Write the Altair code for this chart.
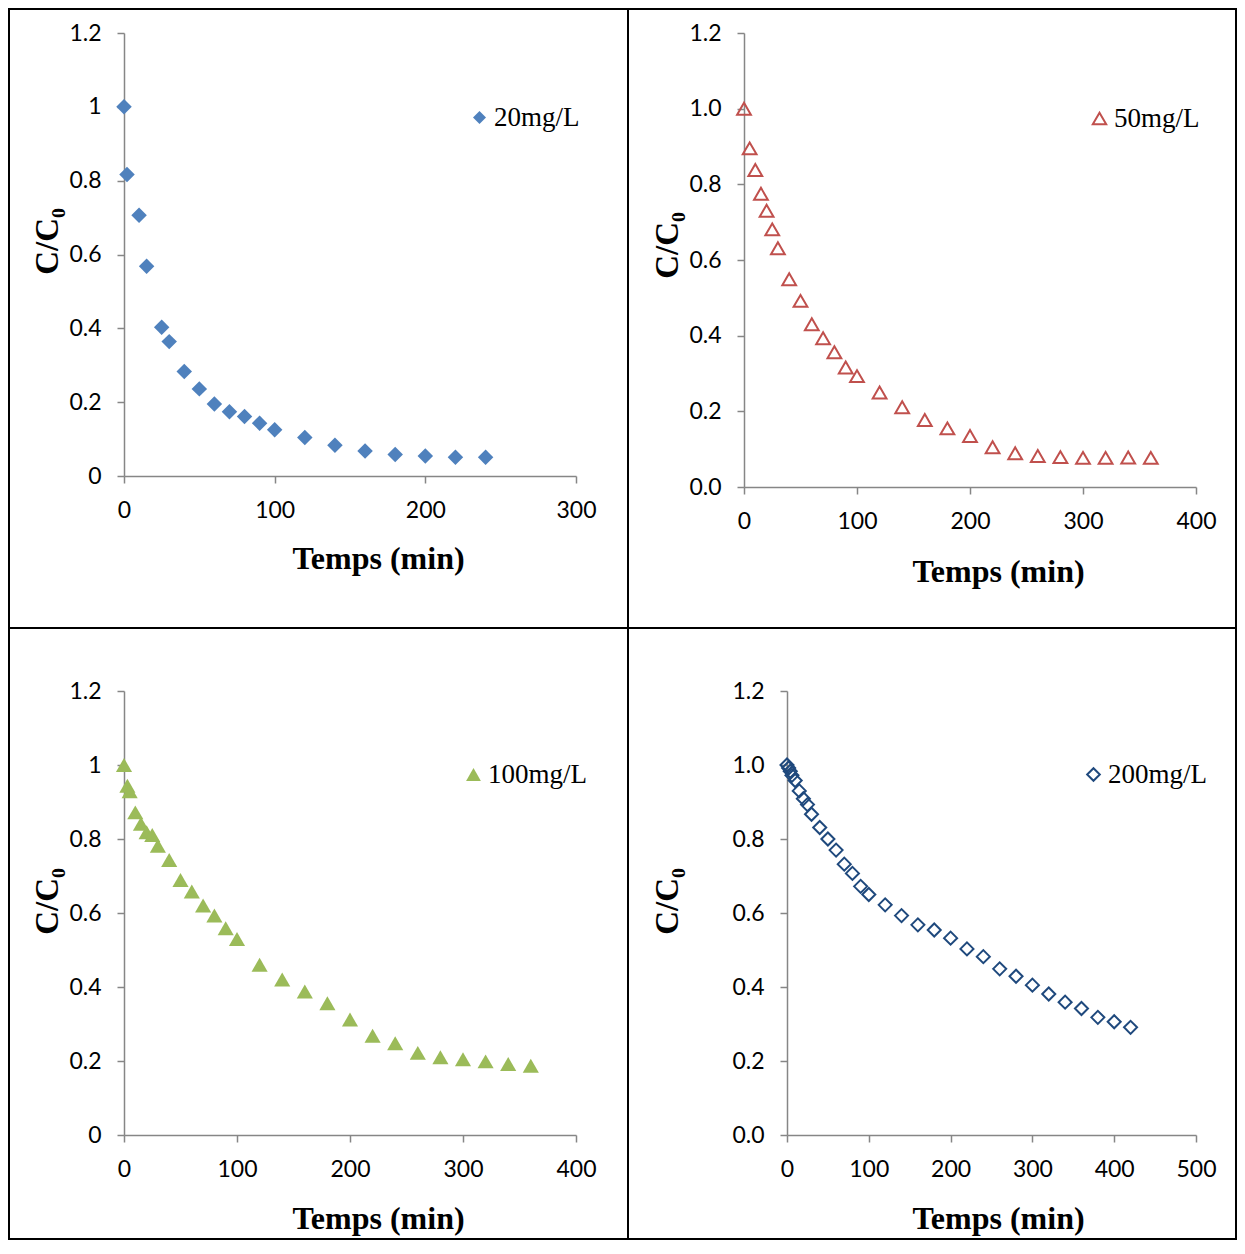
import altair as alt
import pandas as pd

# ---- data ----
t1 = [0, 2, 10, 15, 25, 30, 40, 50, 60, 70, 80, 90, 100, 120, 140, 160, 180, 200, 220, 240]
c1 = [1.0, 0.817, 0.706, 0.568, 0.403, 0.364, 0.283, 0.236, 0.195, 0.174, 0.161, 0.143,
      0.125, 0.104, 0.083, 0.068, 0.058, 0.054, 0.051, 0.051]

t2 = [0, 5, 10, 15, 20, 25, 30, 40, 50, 60, 70, 80, 90, 100, 120, 140, 160, 180, 200,
      220, 240, 260, 280, 300, 320, 340, 360]
c2 = [1.0, 0.895, 0.838, 0.775, 0.730, 0.681, 0.631, 0.549, 0.492, 0.430, 0.393, 0.356,
      0.316, 0.293, 0.250, 0.211, 0.177, 0.155, 0.135, 0.105, 0.089, 0.082, 0.079, 0.077,
      0.077, 0.078, 0.077]

t3 = [0, 3, 5, 10, 15, 20, 25, 30, 40, 50, 60, 70, 80, 90, 100, 120, 140, 160, 180, 200,
      220, 240, 260, 280, 300, 320, 340, 360]
c3 = [1.0, 0.944, 0.929, 0.872, 0.841, 0.818, 0.811, 0.782, 0.743, 0.689, 0.658, 0.620,
      0.593, 0.559, 0.530, 0.460, 0.420, 0.388, 0.356, 0.312, 0.268, 0.248, 0.222, 0.210,
      0.205, 0.199, 0.192, 0.187]

t4 = [0, 2, 4, 6, 10, 15, 20, 25, 30, 40, 50, 60, 70, 80, 90, 100, 120, 140, 160, 180,
      200, 220, 240, 260, 280, 300, 320, 340, 360, 380, 400, 420]
c4 = [1.0, 0.992, 0.983, 0.972, 0.958, 0.930, 0.909, 0.893, 0.867, 0.831, 0.800, 0.770,
      0.732, 0.707, 0.672, 0.650, 0.622, 0.593, 0.568, 0.554, 0.532, 0.503, 0.482, 0.449,
      0.429, 0.405, 0.381, 0.359, 0.342, 0.318, 0.306, 0.291]

labels = ["20mg/L", "50mg/L", "100mg/L", "200mg/L"]
y_ticks = [0, 0.2, 0.4, 0.6, 0.8, 1.0, 1.2]

AXIS_COLOR = "#868686"
SERIF = "Liberation Serif"


def panel(t, c, label, color, shape, filled, size, legend_size, xmax, width, height,
          yfmt, border, legend_xy, ytitle_xy, xtitle_xy):
    df = pd.DataFrame({"t": t, "c": c, "s": [label] * len(t)})
    bx0, bx1, by0, by1 = border
    pts = alt.Chart(df).mark_point(
        filled=filled, shape=shape, size=size, strokeWidth=2, opacity=1
    ).encode(
        x=alt.X("t:Q", scale=alt.Scale(domain=[0, xmax], nice=False),
                axis=alt.Axis(values=list(range(0, xmax + 1, 100)), format="d",
                              labelFlush=False,
                              title="Temps (min)", titleX=xtitle_xy[0], titleY=xtitle_xy[1],
                              titleBaseline="middle", titleAngle=0,
                              titleFontSize=32)),
        y=alt.Y("c:Q", scale=alt.Scale(domain=[0, 1.2], nice=False),
                axis=alt.Axis(values=y_ticks, format=yfmt, title="C/C₀",
                              labelFlush=False,
                              titleX=ytitle_xy[0], titleY=ytitle_xy[1],
                              titleBaseline="alphabetic", titleFontSize=33)),
        color=alt.Color("s:N", scale=alt.Scale(domain=[label], range=[color]),
                        legend=alt.Legend(orient="none", legendX=legend_xy[0],
                                          legendY=legend_xy[1], title=None, padding=0,
                                          symbolType=shape, symbolSize=legend_size,
                                          symbolStrokeWidth=2, labelFont=SERIF,
                                          labelFontSize=27, labelColor="black",
                                          labelOffset=1)),
    )
    frame = alt.Chart(pd.DataFrame({"k": [0]})).mark_rect(
        filled=False, stroke="black", strokeWidth=2
    ).encode(x=alt.value(bx0), x2=alt.value(bx1), y=alt.value(by0), y2=alt.value(by1))
    return alt.layer(pts, frame).properties(width=width, height=height)


p1 = panel(t1, c1, labels[0], "#4F81BD", "diamond", True, 240, 170, 300, 452, 443, "~g",
           (-115, 504, -24, 595), (342, 71), (-67, 208), (254, 82))
p2 = panel(t2, c2, labels[1], "#C0504D", "triangle-up", False, 190, 180, 400, 452, 454, ".1f",
           (-116, 492, -24, 595), (342, 72), (-67, 212), (254, 84))
p3 = panel(t3, c3, labels[2], "#9BBB59", "triangle-up", True, 260, 220, 400, 452, 444, "~g",
           (-115, 504, -63, 548), (336, 70), (-67, 210), (254, 83))
p4 = panel(t4, c4, labels[3], "#1F497D", "diamond", False, 170, 160, 500, 409, 444, ".1f",
           (-159, 449, -63, 548), (293, 70), (-110, 210), (211, 83))

row1 = alt.hconcat(p1, p2, spacing=-2).resolve_scale(color="independent")
row2 = alt.hconcat(p3, p4, spacing=-2).resolve_scale(color="independent")

chart = alt.vconcat(row1, row2, spacing=-2).resolve_scale(
    color="independent"
).properties(padding=0).configure_view(strokeWidth=0).configure_axis(
    grid=False,
    domainColor=AXIS_COLOR,
    domainWidth=1.5,
    tickColor=AXIS_COLOR,
    tickWidth=1.5,
    tickSize=7,
    labelFont="Lato",
    labelFontSize=23,
    labelColor="black",
    labelPadding=16,
    titleFont=SERIF,
    titleFontWeight="bold",
    titleColor="black",
)

chart.save("out.html", embed_options={"renderer": "svg", "actions": False})
